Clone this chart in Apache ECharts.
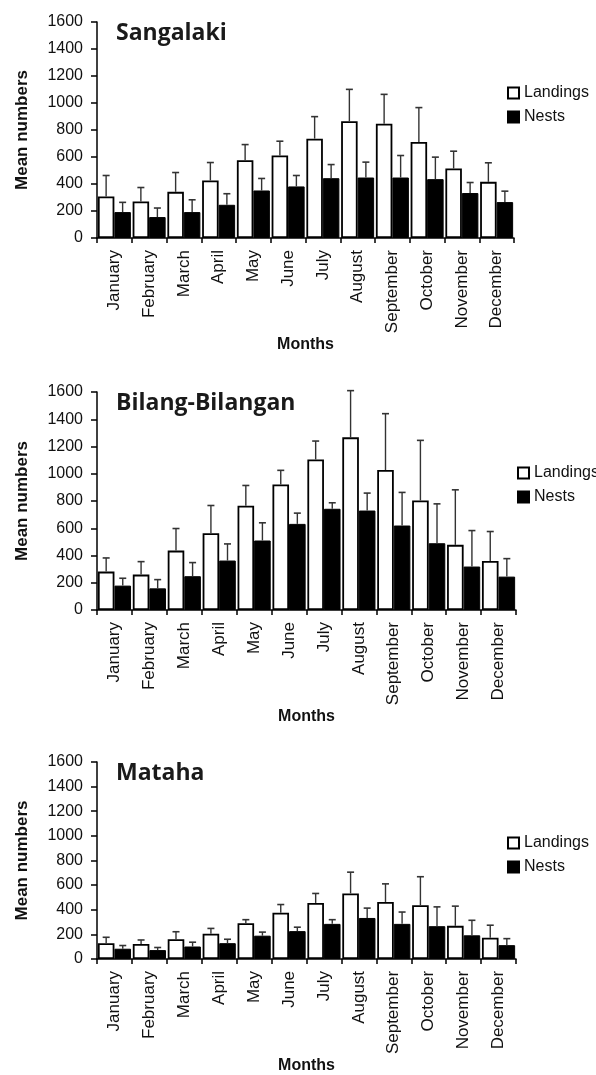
<!DOCTYPE html>
<html>
<head>
<meta charset="utf-8">
<script src="https://cdn.jsdelivr.net/npm/echarts@6/dist/echarts.min.js"></script>
<style>
  html, body { margin: 0; padding: 0; background: #fff; }
  #main { width: 596px; height: 1075px; }
</style>
</head>
<body>
<div id="main"></div>
<script>
var months = ['January','February','March','April','May','June','July','August','September','October','November','December'];
var yTicks = [0, 200, 400, 600, 800, 1000, 1200, 1400, 1600];
var sites = ['Sangalaki', 'Bilang-Bilangan', 'Mataha'];

// Sangalaki
var sangLand   = [308, 271, 342, 426, 576, 611, 736, 865, 847, 712, 515, 416];
var sangLandSd = [155, 103, 143, 133, 116, 106, 163, 236, 217, 254, 128, 141];
var sangNest   = [192, 155, 192, 246, 352, 382, 443, 448, 448, 436, 333, 266];
var sangNestSd = [72, 67, 91, 82, 89, 81, 101, 114, 163, 163, 78, 81];

// Bilang-Bilangan
var bilLand   = [282, 260, 436, 564, 765, 922, 1105, 1267, 1027, 804, 478, 360];
var bilLandSd = [100, 95, 162, 203, 149, 103, 135, 343, 414, 441, 404, 216];
var bilNest   = [179, 159, 248, 363, 510, 632, 743, 730, 620, 490, 319, 245];
var bilNestSd = [54, 64, 100, 122, 130, 79, 44, 128, 243, 289, 264, 132];

// Mataha
var matLand   = [128, 122, 160, 205, 290, 375, 455, 532, 463, 437, 269, 173];
var matLandSd = [48, 32, 61, 43, 29, 67, 77, 173, 147, 231, 160, 101];
var matNest   = [83, 72, 101, 128, 189, 226, 285, 333, 285, 266, 192, 112];
var matNestSd = [26, 21, 35, 32, 29, 32, 34, 80, 96, 157, 122, 53];

var panels = [
  {land: sangLand, landSd: sangLandSd, nest: sangNest, nestSd: sangNestSd},
  {land: bilLand, landSd: bilLandSd, nest: bilNest, nestSd: bilNestSd},
  {land: matLand, landSd: matLandSd, nest: matNest, nestSd: matNestSd}
];

var FONT = '"Liberation Sans", Arial, sans-serif';
var INK = '#111';
var CAT_GAP = 0.05;

var gridPos = [
  {left: 97, top: 22, width: 417, height: 216},
  {left: 97, top: 392, width: 419, height: 218},
  {left: 97, top: 762, width: 419, height: 199}
];
var legendPos = [
  {left: 502, top: 80},
  {left: 512, top: 460},
  {left: 502, top: 830}
];

function errSeries(gi, means, sds, side) {
  return {
    type: 'custom',
    xAxisIndex: gi,
    yAxisIndex: gi,
    silent: true,
    z: 5,
    data: means.map(function (m, i) { return [i, m, m + sds[i]]; }),
    renderItem: function (params, api) {
      var band = api.size([1, 0])[0];
      var w = band * (1 - CAT_GAP) / 2;
      var p0 = api.coord([api.value(0), api.value(1)]);
      var p1 = api.coord([api.value(0), api.value(2)]);
      var x = p0[0] + side * w / 2;
      return {
        type: 'group',
        children: [
          {type: 'line', shape: {x1: x, y1: p0[1], x2: x, y2: p1[1]},
           style: {stroke: '#333', lineWidth: 1.4}},
          {type: 'line', shape: {x1: x - 3.5, y1: p1[1], x2: x + 3.5, y2: p1[1]},
           style: {stroke: '#333', lineWidth: 1.6}}
        ]
      };
    }
  };
}

var grids = [], xAxes = [], yAxes = [], titles = [], legends = [], series = [];

panels.forEach(function (p, gi) {
  grids.push(gridPos[gi]);
  xAxes.push({
    type: 'category',
    gridIndex: gi,
    data: months,
    boundaryGap: true,
    name: 'Months',
    nameLocation: 'middle',
    nameGap: 98,
    nameTextStyle: {fontFamily: FONT, fontSize: 16, fontWeight: 'bold', color: INK},
    axisLine: {lineStyle: {color: '#000', width: 1.5}},
    axisTick: {show: true, length: 5, inside: false, lineStyle: {color: '#000', width: 1.5}},
    axisLabel: {interval: 0, rotate: 90, margin: 12, fontFamily: FONT, fontSize: 17, color: INK}
  });
  yAxes.push({
    type: 'value',
    gridIndex: gi,
    min: yTicks[0],
    max: yTicks[yTicks.length - 1],
    interval: 200,
    name: 'Mean numbers',
    nameLocation: 'middle',
    nameGap: 66,
    nameTextStyle: {fontFamily: FONT, fontSize: 17, fontWeight: 'bold', color: INK},
    splitLine: {show: false},
    axisLine: {show: true, lineStyle: {color: '#000', width: 1.5}},
    axisTick: {show: true, length: 6, inside: false, lineStyle: {color: '#000', width: 1.5}},
    axisLabel: {margin: 14, fontFamily: FONT, fontSize: 16, color: INK,
                formatter: function (v) { return String(v); }}
  });
  titles.push({
    text: sites[gi],
    left: gridPos[gi].left + 14,
    top: gridPos[gi].top - 5,
    textStyle: {fontFamily: '"Open Sans", sans-serif', fontWeight: 'bold', fontSize: 23, color: '#1a1a1a'}
  });
  legends.push({
    left: legendPos[gi].left,
    top: legendPos[gi].top,
    orient: 'vertical',
    itemWidth: 11,
    itemHeight: 11,
    itemGap: 8,
    itemTextGap: 5,
    selectedMode: false,
    textStyle: {fontFamily: FONT, fontSize: 16, color: INK},
    data: [
      {name: 'Landings', icon: 'rect', itemStyle: {color: '#fff', borderColor: '#000', borderWidth: 2}},
      {name: 'Nests', icon: 'rect', itemStyle: {color: '#000'}}
    ]
  });
  series.push({
    name: 'Landings',
    type: 'bar',
    xAxisIndex: gi,
    yAxisIndex: gi,
    data: p.land,
    barGap: '0%',
    barCategoryGap: (CAT_GAP * 100) + '%',
    itemStyle: {color: '#fff', borderColor: '#000', borderWidth: 1.8},
    z: 2
  });
  series.push({
    name: 'Nests',
    type: 'bar',
    xAxisIndex: gi,
    yAxisIndex: gi,
    data: p.nest,
    barGap: '0%',
    barCategoryGap: (CAT_GAP * 100) + '%',
    itemStyle: {color: '#000', borderColor: '#000', borderWidth: 1},
    z: 2
  });
  series.push(errSeries(gi, p.land, p.landSd, -1));
  series.push(errSeries(gi, p.nest, p.nestSd, 1));
});

var myChart = echarts.init(document.getElementById('main'), null, {renderer: 'canvas'});
myChart.setOption({
  backgroundColor: '#fff',
  animation: false,
  title: titles,
  legend: legends,
  grid: grids,
  xAxis: xAxes,
  yAxis: yAxes,
  series: series
});
</script>
</body>
</html>
